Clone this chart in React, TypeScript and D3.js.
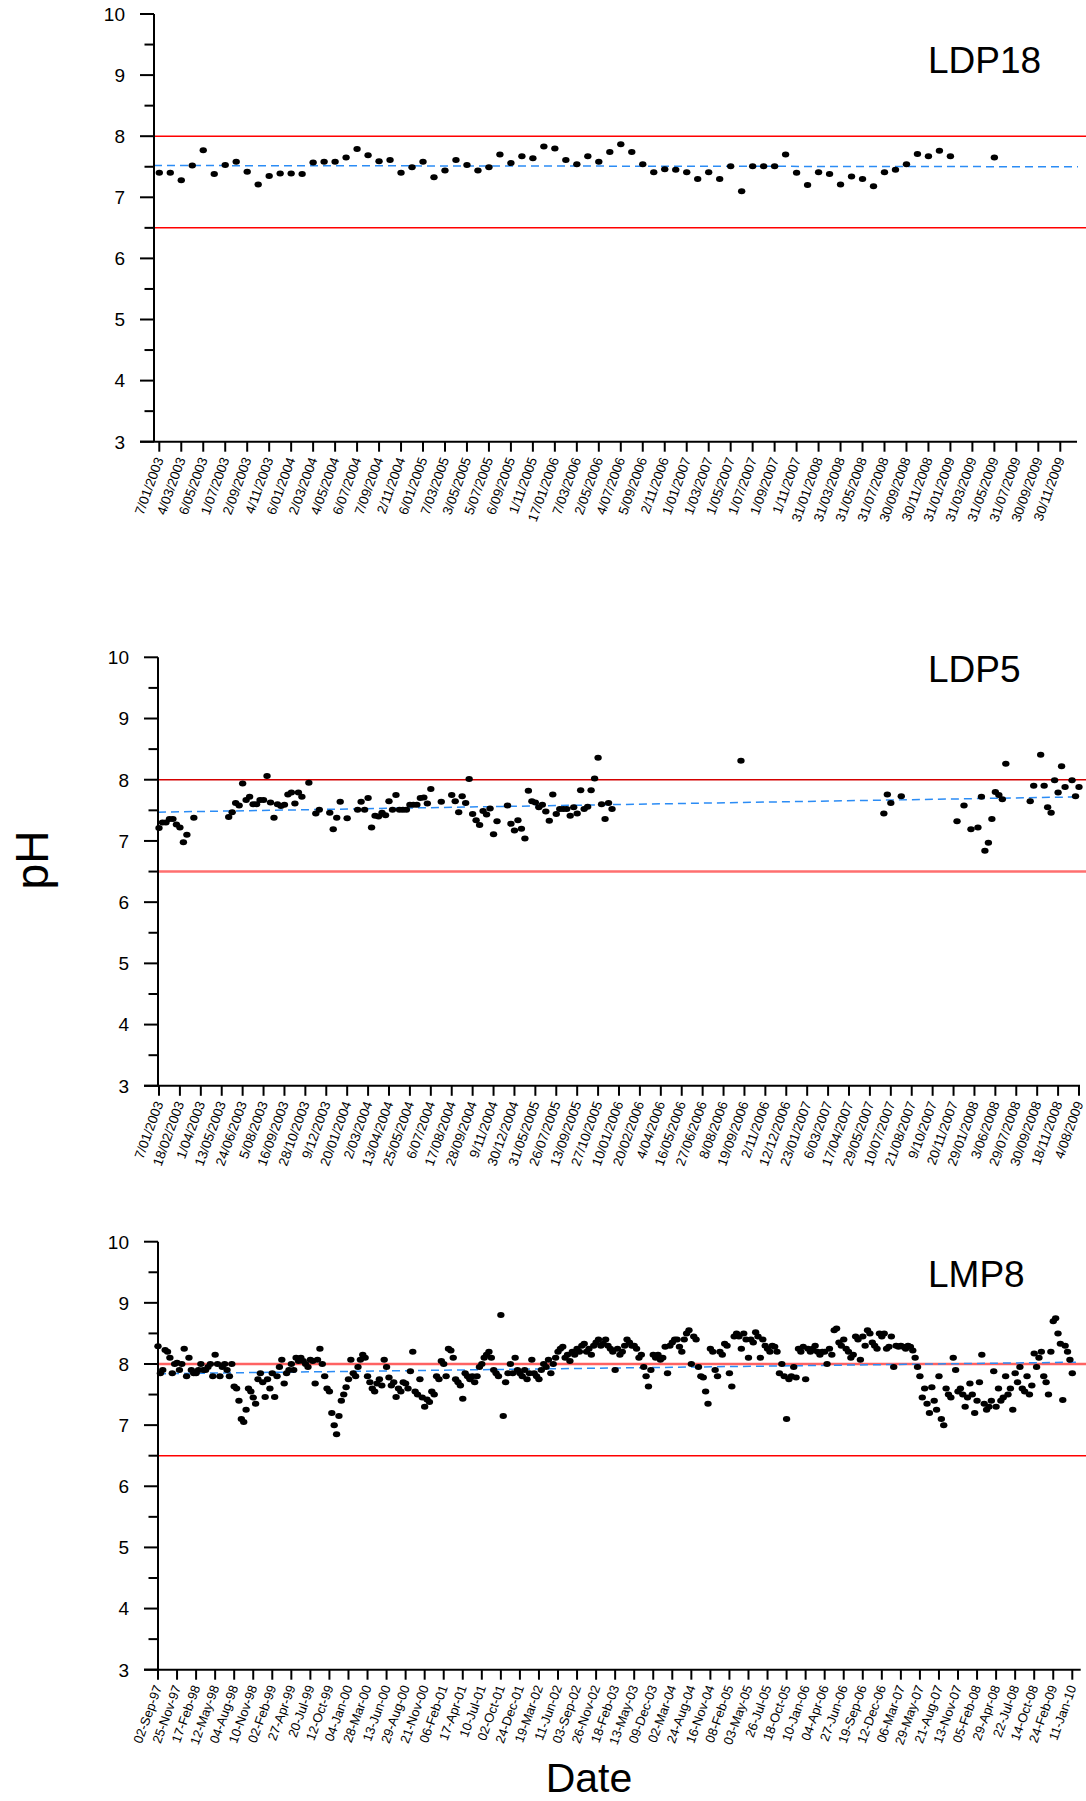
import React from "react";
import * as d3 from "d3";

// ---------- data ----------
const LDP18_TICKS = [
  "7/01/2003", "4/03/2003", "6/05/2003", "1/07/2003", "2/09/2003", "4/11/2003",
  "6/01/2004", "2/03/2004", "4/05/2004", "6/07/2004", "7/09/2004", "2/11/2004",
  "6/01/2005", "7/03/2005", "3/05/2005", "5/07/2005", "6/09/2005", "1/11/2005",
  "17/01/2006", "7/03/2006", "2/05/2006", "4/07/2006", "5/09/2006", "2/11/2006",
  "1/01/2007", "1/03/2007", "1/05/2007", "1/07/2007", "1/09/2007", "1/11/2007",
  "31/01/2008", "31/03/2008", "31/05/2008", "31/07/2008", "30/09/2008", "30/11/2008",
  "31/01/2009", "31/03/2009", "31/05/2009", "31/07/2009", "30/09/2009", "30/11/2009",
];
// monthly samples, two per labelled tick; null = no reading
const LDP18_PH: (number | null)[] = [
  7.40, 7.40, 7.28, 7.52, 7.77, 7.38, 7.53, 7.58, 7.42, 7.21,
  7.35, 7.39, 7.39, 7.38, 7.57, 7.58, 7.58, 7.65, 7.79, 7.69,
  7.59, 7.61, 7.40, 7.49, 7.58, 7.33, 7.44, 7.61, 7.53, 7.44,
  7.49, 7.70, 7.56, 7.67, 7.64, 7.83, 7.80, 7.61, 7.54, 7.67,
  7.58, 7.74, 7.87, 7.74, 7.54, 7.41, 7.46, 7.45, 7.41, 7.30,
  7.41, 7.30, 7.51, 7.10, 7.51, 7.51, 7.51, 7.70, 7.40, 7.20,
  7.41, 7.38, 7.21, 7.34, 7.30, 7.18, 7.41, 7.45, 7.54, 7.71,
  7.67, 7.76, 7.67, null, null, null, 7.65,
];
const LDP18_PER_TICK = 2;
const LDP18_TREND = [7.52, 7.50];

const LDP5_TICKS = [
  "7/01/2003", "18/02/2003", "1/04/2003", "13/05/2003", "24/06/2003", "5/08/2003",
  "16/09/2003", "28/10/2003", "9/12/2003", "20/01/2004", "2/03/2004", "13/04/2004",
  "25/05/2004", "6/07/2004", "17/08/2004", "28/09/2004", "9/11/2004", "30/12/2004",
  "31/05/2005", "26/07/2005", "13/09/2005", "27/10/2005", "10/01/2006", "20/02/2006",
  "4/04/2006", "16/05/2006", "27/06/2006", "8/08/2006", "19/09/2006", "2/11/2006",
  "12/12/2006", "23/01/2007", "6/03/2007", "17/04/2007", "29/05/2007", "10/07/2007",
  "21/08/2007", "9/10/2007", "20/11/2007", "29/01/2008", "3/06/2008", "29/07/2008",
  "30/09/2008", "18/11/2008", "4/08/2009",
];
// weekly sample rows (six per labelled tick) and the pH read on each
const LDP5_ROW = [
  0, 1, 2, 3, 4, 5, 6, 7, 8, 10,
  20, 21, 22, 23, 24, 25, 26, 27, 28, 29, 30, 31, 32, 33, 34, 35, 36, 37, 38, 39, 40, 41, 43,
  45, 46, 49, 50, 51, 52, 54,
  57, 58, 59, 60, 61, 62, 63, 64, 65, 66, 67, 68, 69, 70, 71, 72, 73, 74, 75, 76, 77, 78,
  81, 84, 85, 86, 87, 88, 89, 90, 91, 92, 93, 94, 95, 96, 97,
  100, 101, 102, 103, 104, 105, 106, 107, 108, 109, 110, 111, 112, 113, 114, 115, 116, 117,
  118, 119, 120, 121, 122, 123, 124, 125, 126, 127, 128, 129, 130,
  167,
  208, 209, 210, 213,
  229, 231, 233, 235, 236, 237, 238, 239, 240, 241, 242, 243,
  250, 251, 253, 254, 255, 256, 257, 258, 259, 260, 262, 263, 264,
];
const LDP5_PH = [
  7.21, 7.30, 7.30, 7.36, 7.36, 7.27, 7.22, 6.98, 7.10, 7.38,
  7.39, 7.47, 7.62, 7.58, 7.94, 7.67, 7.72, 7.60, 7.60, 7.67, 7.67, 8.06, 7.63, 7.38, 7.60, 7.57, 7.59, 7.76, 7.79, 7.61, 7.79, 7.72, 7.95,
  7.45, 7.51, 7.46, 7.19, 7.38, 7.64, 7.37,
  7.51, 7.64, 7.51, 7.70, 7.22, 7.41, 7.40, 7.46, 7.42, 7.65, 7.51, 7.75, 7.51, 7.51, 7.51, 7.59, 7.59, 7.59, 7.70, 7.71, 7.61, 7.85,
  7.64, 7.75, 7.65, 7.47, 7.73, 7.62, 8.01, 7.44, 7.34, 7.26, 7.49, 7.43, 7.53, 7.11, 7.32,
  7.58, 7.28, 7.17, 7.34, 7.20, 7.04, 7.82, 7.65, 7.63, 7.55, 7.59, 7.48, 7.33, 7.76, 7.44, 7.52, 7.52, 7.52,
  7.41, 7.55, 7.45, 7.83, 7.52, 7.56, 7.83, 8.02, 8.36, 7.60, 7.36, 7.62, 7.52,
  8.31,
  7.45, 7.76, 7.62, 7.73,
  7.32, 7.58, 7.19, 7.22, 7.72, 6.84, 6.97, 7.36, 7.80, 7.75, 7.68, 8.26,
  7.65, 7.90, 8.41, 7.90, 7.55, 7.46, 7.99, 7.79, 8.22, 7.88, 7.99, 7.73, 7.88,
];
const LDP5_PER_TICK = 6;
const LDP5_TREND = [7.47, 7.72];

const LMP8_TICKS = [
  "02-Sep-97", "25-Nov-97", "17-Feb-98", "12-May-98", "04-Aug-98", "10-Nov-98",
  "02-Feb-99", "27-Apr-99", "20-Jul-99", "12-Oct-99", "04-Jan-00", "28-Mar-00",
  "13-Jun-00", "29-Aug-00", "21-Nov-00", "06-Feb-01", "17-Apr-01", "10-Jul-01",
  "02-Oct-01", "24-Dec-01", "19-Mar-02", "11-Jun-02", "03-Sep-02", "26-Nov-02",
  "18-Feb-03", "13-May-03", "09-Dec-03", "02-Mar-04", "24-Aug-04", "16-Nov-04",
  "08-Feb-05", "03-May-05", "26-Jul-05", "18-Oct-05", "10-Jan-06", "04-Apr-06",
  "27-Jun-06", "19-Sep-06", "12-Dec-06", "06-Mar-07", "29-May-07", "21-Aug-07",
  "13-Nov-07", "05-Feb-08", "29-Apr-08", "22-Jul-08", "14-Oct-08", "24-Feb-09",
  "11-Jan-10",
];
// readings in sample order, eight per labelled tick
const LMP8_PH = [
  8.29, 7.85, 7.90, 8.23, 8.20, 8.10, 7.85, 8.00,
  8.02, 7.90, 8.00, 8.25, 7.80, 8.10, 7.90, 7.85,
  7.85, 7.90, 8.00, 7.90, 7.90, 7.95, 8.00, 7.80,
  8.15, 8.00, 7.80, 7.95, 8.00, 7.90, 7.80, 8.00,
  7.63, 7.60, 7.40, 7.10, 7.05, 7.25, 7.60, 7.55,
  7.45, 7.35, 7.75, 7.85, 7.70, 7.46, 7.75, 7.60,
  7.85, 7.46, 7.80, 7.95, 8.07, 7.68, 7.85, 7.90,
  8.00, 7.90, 8.10, 8.05, 8.10, 8.05, 8.00, 7.95,
  8.07, 8.05, 7.68, 8.07, 8.25, 8.00, 7.80, 7.60,
  7.55, 7.20, 7.00, 6.85, 7.15, 7.40, 7.50, 7.62,
  7.75, 8.07, 7.85, 7.80, 7.95, 8.07, 8.15, 8.10,
  7.80, 7.70, 7.60, 7.55, 7.68, 7.75, 7.65, 8.07,
  7.95, 7.78, 7.65, 7.70, 7.46, 7.60, 7.55, 7.70,
  7.68, 7.60, 7.88, 8.20, 7.55, 7.50, 7.75, 7.45,
  7.30, 7.42, 7.38, 7.55, 7.50, 7.80, 7.75, 8.05,
  8.00, 7.80, 8.25, 8.22, 8.10, 7.75, 7.70, 7.65,
  7.43, 7.85, 7.80, 7.75, 7.80, 7.70, 7.80, 7.95,
  8.00, 8.10, 8.15, 8.20, 8.10, 7.90, 7.85, 7.80,
  8.80, 7.15, 7.70, 7.85, 8.00, 7.85, 8.10, 7.90,
  7.85, 7.80, 7.90, 7.75, 7.85, 8.07, 7.85, 7.80,
  7.75, 7.90, 8.00, 7.95, 8.07, 7.85, 8.00, 8.10,
  8.20, 8.25, 8.28, 8.10, 8.15, 8.05, 8.20, 8.15,
  8.25, 8.20, 8.30, 8.33, 8.20, 8.25, 8.15, 8.30,
  8.35, 8.40, 8.30, 8.33, 8.40, 8.30, 8.25, 8.20,
  7.90, 8.25, 8.15, 8.20, 8.30, 8.40, 8.35, 8.30,
  8.30, 8.25, 8.10, 8.15, 7.95, 7.80, 7.63, 7.90,
  8.15, 8.10, 8.15, 8.07, 8.10, 8.28, 7.85, 8.30,
  8.35, 8.40, 8.40, 8.28, 8.20, 8.40, 8.50, 8.55,
  8.00, 8.45, 8.40, 7.95, 7.80, 7.78, 7.55, 7.35,
  8.25, 8.20, 7.90, 7.80, 8.20, 8.15, 8.33, 8.30,
  7.85, 7.63, 8.45, 8.50, 8.45, 8.25, 8.50, 8.40,
  8.10, 8.40, 8.35, 8.52, 8.45, 8.10, 8.40, 8.30,
  8.25, 8.20, 8.30, 8.28, 8.20, 7.85, 8.00, 7.80,
  7.10, 7.75, 7.80, 7.95, 7.78, 8.25, 8.20, 8.28,
  7.75, 8.25, 8.20, 8.25, 8.30, 8.20, 8.15, 8.20,
  8.20, 8.00, 8.25, 8.15, 8.55, 8.58, 8.35, 8.30,
  8.40, 8.25, 8.20, 8.10, 8.15, 8.45, 8.40, 8.07,
  8.45, 8.30, 8.55, 8.50, 8.35, 8.30, 8.25, 8.50,
  8.45, 8.50, 8.25, 8.28, 8.45, 7.95, 8.30, 8.28,
  8.30, 8.28, 8.25, 8.30, 8.28, 8.22, 8.10, 7.95,
  7.80, 7.45, 7.60, 7.35, 7.20, 7.62, 7.40, 7.25,
  7.80, 7.10, 7.00, 7.60, 7.50, 7.45, 8.10, 7.90,
  7.55, 7.60, 7.50, 7.30, 7.45, 7.68, 7.50, 7.20,
  7.40, 7.70, 8.15, 7.35, 7.25, 7.30, 7.40, 7.88,
  7.30, 7.60, 7.40, 7.45, 7.80, 7.50, 7.60, 7.25,
  7.85, 7.70, 7.95, 7.60, 7.55, 7.80, 7.50, 7.65,
  8.17, 7.95, 8.10, 8.20, 7.80, 7.70, 7.50, 8.20,
  8.70, 8.75, 8.50, 8.33, 7.41, 8.30, 8.20, 8.07,
  7.85,
];
const LMP8_PER_TICK = 8;
const LMP8_TREND = [7.84, 8.03];

const Y_MAJOR = [3, 4, 5, 6, 7, 8, 9, 10];
const Y_MINOR = [3.5, 4.5, 5.5, 6.5, 7.5, 8.5, 9.5];
const GUIDE_HIGH = 8.0;
const GUIDE_LOW = 6.5;

// ---------- layout ----------
const W = 1086;
const H = 1801;
const FONT = "'Liberation Sans', Arial, Helvetica, sans-serif";

type Geom = {
  yAxisX: number; y10: number; y3: number; tick0: number; tickN: number;
  axisRight: number; trendRight: number; titleY: number; labelSize: number;
  highStyle: [string, number]; lowStyle: [string, number];
};

const GEOMS: Geom[] = [
  { yAxisX: 154, y10: 14, y3: 441.7, tick0: 159.3, tickN: 1060.3, axisRight: 1077, trendRight: 1078,
    titleY: 73, labelSize: 13.5, highStyle: ["#ff0000", 1.5], lowStyle: ["#ff0000", 1.5] },
  { yAxisX: 158, y10: 657.3, y3: 1085.8, tick0: 159, tickN: 1079, axisRight: 1080, trendRight: 1080,
    titleY: 681.7, labelSize: 13.5, highStyle: ["#d40000", 1.5], lowStyle: ["#ff6f6f", 2.5] },
  { yAxisX: 158, y10: 1241.7, y3: 1669.7, tick0: 158, tickN: 1072.3, axisRight: 1080.7, trendRight: 1080,
    titleY: 1286.7, labelSize: 13, highStyle: ["#ff6262", 2.5], lowStyle: ["#ff0000", 1.5] },
];

type Series = {
  title: string; ticks: string[]; perTick: number;
  points: [number, number][]; trend: number[];
};

const SERIES: Series[] = [
  {
    title: "LDP18", ticks: LDP18_TICKS, perTick: LDP18_PER_TICK, trend: LDP18_TREND,
    points: LDP18_PH.map((v, i) => [i, v] as [number, number | null])
      .filter((d) => d[1] !== null) as [number, number][],
  },
  {
    title: "LDP5", ticks: LDP5_TICKS, perTick: LDP5_PER_TICK, trend: LDP5_TREND,
    points: LDP5_ROW.map((r, i) => [r, LDP5_PH[i]] as [number, number]),
  },
  {
    title: "LMP8", ticks: LMP8_TICKS, perTick: LMP8_PER_TICK, trend: LMP8_TREND,
    points: LMP8_PH.map((v, i) => [i, v] as [number, number]),
  },
];

function Panel({ s, g }: { s: Series; g: Geom }) {
  const y = d3.scaleLinear().domain([3, 10]).range([g.y3, g.y10]);
  const x = d3.scaleLinear().domain([0, s.ticks.length - 1]).range([g.tick0, g.tickN]);
  const axisY = y(3);
  const trendLine = d3.line<[number, number]>()
    .x((d) => d[0]).y((d) => y(d[1]));
  const trendPts: [number, number][] = [[g.yAxisX, s.trend[0]], [g.trendRight, s.trend[1]]];

  return (
    <g>
      {/* guide limits */}
      <line x1={g.yAxisX} x2={W} y1={y(GUIDE_HIGH)} y2={y(GUIDE_HIGH)}
        stroke={g.highStyle[0]} strokeWidth={g.highStyle[1]} />
      <line x1={g.yAxisX} x2={W} y1={y(GUIDE_LOW)} y2={y(GUIDE_LOW)}
        stroke={g.lowStyle[0]} strokeWidth={g.lowStyle[1]} />
      {/* linear trend */}
      <path d={trendLine(trendPts) || ""} fill="none" stroke="#2b8cf5"
        strokeWidth={1.5} strokeDasharray="8 5" />
      {/* readings */}
      {s.points.map((d, i) => (
        <ellipse key={i} cx={x(d[0] / s.perTick)} cy={y(d[1])} rx={3.7} ry={3.0} fill="#000" />
      ))}
      {/* y axis */}
      <line x1={g.yAxisX} x2={g.yAxisX} y1={y(10)} y2={axisY} stroke="#000" strokeWidth={2} />
      {Y_MAJOR.map((v) => (
        <g key={v}>
          <line x1={g.yAxisX - 14} x2={g.yAxisX} y1={y(v)} y2={y(v)} stroke="#000" strokeWidth={2} />
          <text x={g.yAxisX - 29} y={y(v)} dy="0.36em" textAnchor="end"
            fontFamily={FONT} fontSize={19} fill="#000">{v}</text>
        </g>
      ))}
      {Y_MINOR.map((v) => (
        <line key={v} x1={g.yAxisX - 9.5} x2={g.yAxisX} y1={y(v)} y2={y(v)} stroke="#000" strokeWidth={2} />
      ))}
      {/* x axis */}
      <line x1={g.yAxisX - 14} x2={g.axisRight} y1={axisY} y2={axisY} stroke="#000" strokeWidth={2} />
      {s.ticks.map((t, i) => (
        <g key={i}>
          <line x1={x(i)} x2={x(i)} y1={axisY} y2={axisY + 10} stroke="#000" strokeWidth={2} />
          <text transform={`translate(${x(i)},${axisY + 16}) rotate(-70)`}
            dy="0.35em" textAnchor="end" fontFamily={FONT} fontSize={g.labelSize} fill="#000">{t}</text>
        </g>
      ))}
      <text x={928} y={g.titleY} fontFamily={FONT} fontSize={37} fill="#000">{s.title}</text>
    </g>
  );
}

export default function App() {
  return (
    <div style={{ position: "absolute", left: 0, top: 0 }}>
      <svg width={W} height={H} viewBox={`0 0 ${W} ${H}`} style={{ display: "block", background: "#fff" }}>
        <rect width={W} height={H} fill="#fff" />
        {SERIES.map((s, i) => <Panel key={s.title} s={s} g={GEOMS[i]} />)}
        <text transform="translate(48,860) rotate(-90)" textAnchor="middle"
          fontFamily={FONT} fontSize={46} fill="#000">pH</text>
        <text x={589} y={1792} textAnchor="middle" fontFamily={FONT} fontSize={41} fill="#000">Date</text>
      </svg>
    </div>
  );
}
